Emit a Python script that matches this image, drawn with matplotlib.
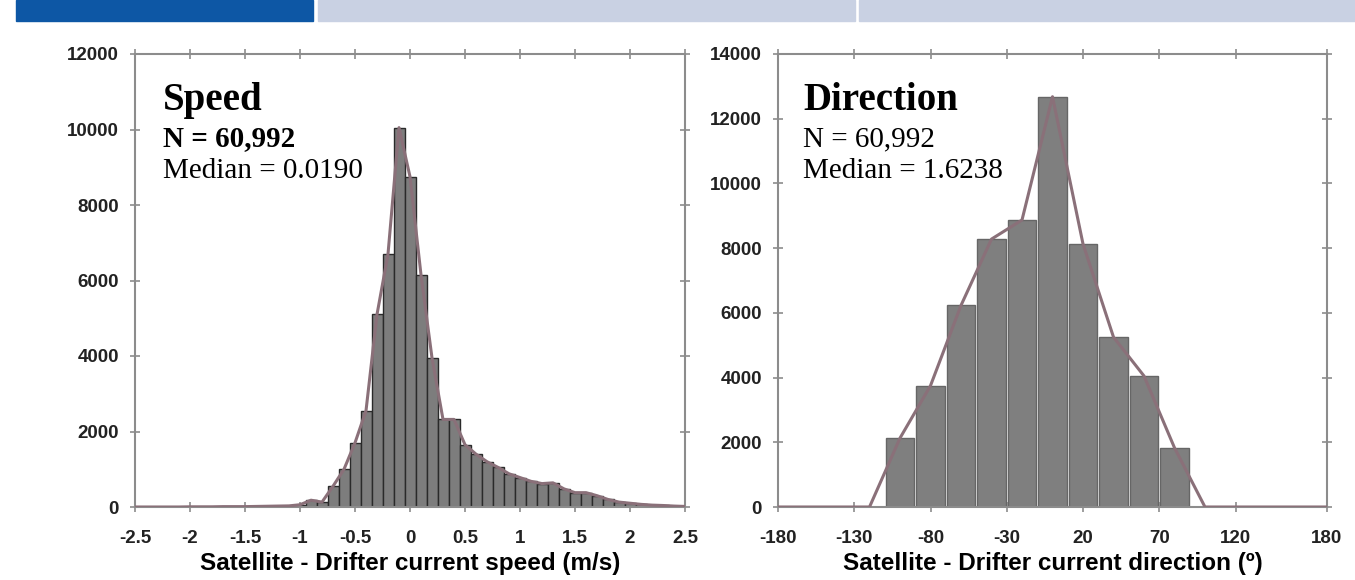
import numpy as np
import matplotlib.pyplot as plt
from matplotlib.patches import Rectangle

plt.rcParams['axes.unicode_minus'] = False

# speed difference histogram (bins of 0.1 m/s, centres -2.5 .. 2.5)
speed_centers = np.round(np.arange(-2.5, 2.51, 0.1), 1)
speed_counts = [0, 0, 0, 0, 0, 5, 5, 5, 10, 10, 10, 15, 20, 25, 30,
                60, 180, 130, 550, 1000, 1700, 2550, 5100, 6700, 10050,
                8750, 6150, 3950, 2320, 2320, 1650, 1400, 1200, 1050, 880,
                780, 680, 620, 640, 480, 380, 380, 300, 200, 130,
                100, 70, 50, 40, 25, 15]

# direction difference histogram (bins of 20 deg)
dir_centers = [-180, -160, -140, -120, -100, -80, -60, -40, -20, 0,
               20, 40, 60, 80, 100, 120, 140, 160, 180]
dir_counts = [0, 0, 0, 0, 2130, 3750, 6230, 8280, 8870, 12680,
              8130, 5250, 4050, 1830, 0, 0, 0, 0, 0]

speed_xticks = [-2.5, -2, -1.5, -1, -0.5, 0, 0.5, 1, 1.5, 2, 2.5]
speed_xlabels = ['-2.5', '-2', '-1.5', '-1', '-0.5', '0', '0.5', '1', '1.5', '2', '2.5']
dir_xticks = [-180, -130, -80, -30, 20, 70, 120, 180]

spine_col = '#8c8c8c'
line_col = '#8a7079'

fig = plt.figure(figsize=(13.55, 5.8), dpi=100)

# banner strip at the top
fig.patches.append(Rectangle((16 / 1355, 1 - 21 / 580), 297 / 1355, 21 / 580,
                             transform=fig.transFigure, color='#0d57a5'))
fig.patches.append(Rectangle((318 / 1355, 1 - 21 / 580), 537 / 1355, 21 / 580,
                             transform=fig.transFigure, color='#c9d1e3'))
fig.patches.append(Rectangle((859 / 1355, 1 - 21 / 580), 496 / 1355, 21 / 580,
                             transform=fig.transFigure, color='#c9d1e3'))

ax1 = fig.add_axes([135 / 1355, 73 / 580, 550 / 1355, 453 / 580])
ax2 = fig.add_axes([778 / 1355, 73 / 580, 549 / 1355, 453 / 580])


def style_axis(ax):
    for s in ax.spines.values():
        s.set_color(spine_col)
        s.set_linewidth(1.5)
    ax.tick_params(direction='inout', length=7, width=1.2, color=spine_col,
                   top=True, right=True, labelsize=13.5, labelcolor='#222222')
    ax.tick_params(axis='x', pad=13)
    ax.tick_params(axis='y', pad=8)
    for lab in ax.get_xticklabels() + ax.get_yticklabels():
        lab.set_fontfamily('Liberation Sans')
        lab.set_fontweight('bold')


# --- speed panel ---
ax1.bar(speed_centers, speed_counts, width=0.1, color='#7d7d7d',
        edgecolor='#2a2a2a', linewidth=1.0, zorder=2)
ax1.plot(speed_centers, speed_counts, color=line_col, lw=2.2, zorder=3)
ax1.set_xlim(-2.5, 2.5)
ax1.set_ylim(0, 12000)
ax1.set_xticks(speed_xticks)
ax1.set_xticklabels(speed_xlabels)
ax1.set_yticks(range(0, 12001, 2000))
style_axis(ax1)
ax1.set_xlabel('Satellite - Drifter current speed (m/s)', fontsize=17.5,
               fontweight='bold', family='Liberation Sans', labelpad=4)

ax1.text(0.051, 0.876, 'Speed', transform=ax1.transAxes, fontsize=28,
         fontweight='bold', family='Liberation Serif', va='baseline')
ax1.text(0.051, 0.797, 'N = 60,992', transform=ax1.transAxes, fontsize=21,
         fontweight='bold', family='Liberation Serif', va='baseline')
ax1.text(0.051, 0.726, 'Median = 0.0190', transform=ax1.transAxes, fontsize=21,
         family='Liberation Serif', va='baseline')

# --- direction panel ---
ax2.bar(dir_centers, dir_counts, width=18.8, color='#7f7f7f',
        edgecolor='#666666', linewidth=1.0, zorder=2)
ax2.plot(dir_centers, dir_counts, color=line_col, lw=2.2, zorder=3)
ax2.set_xlim(-180, 180)
ax2.set_ylim(0, 14000)
ax2.set_xticks(dir_xticks)
ax2.set_yticks(range(0, 14001, 2000))
style_axis(ax2)
ax2.set_xlabel('Satellite - Drifter current direction (º)', fontsize=17.5,
               fontweight='bold', family='Liberation Sans', labelpad=4)

ax2.text(0.0455, 0.876, 'Direction', transform=ax2.transAxes, fontsize=28,
         fontweight='bold', family='Liberation Serif', va='baseline')
ax2.text(0.0455, 0.797, 'N = 60,992', transform=ax2.transAxes, fontsize=21,
         family='Liberation Serif', va='baseline')
ax2.text(0.0455, 0.726, 'Median = 1.6238', transform=ax2.transAxes, fontsize=21,
         family='Liberation Serif', va='baseline')

fig.savefig('out.png', dpi=100)
